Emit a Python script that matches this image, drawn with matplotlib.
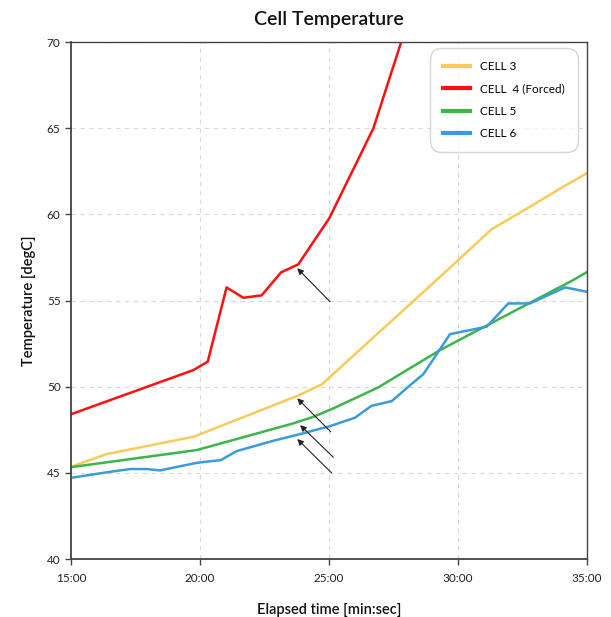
import numpy as np
import matplotlib
matplotlib.use("Agg")
import matplotlib.pyplot as plt

# Data (time in minutes, temperature in degC)
t_cell3 = [15.0, 16.38, 19.74, 23.75, 24.72, 29.17, 31.30, 32.79, 34.08, 34.99]
T_cell3 = [45.35, 46.09, 47.09, 49.45, 50.13, 56.19, 59.13, 60.44, 61.60, 62.38]

t_cell4 = [15.0, 19.74, 20.30, 21.03, 21.68, 22.39, 23.14, 23.81, 25.01, 26.72, 27.79, 28.1]
T_cell4 = [48.4, 50.96, 51.45, 55.76, 55.16, 55.30, 56.63, 57.10, 59.77, 64.99, 69.96, 71.5]

t_cell5 = [15.0, 19.87, 23.62, 24.39, 25.17, 26.91, 29.30, 34.47, 35.0]
T_cell5 = [45.33, 46.32, 47.87, 48.25, 48.74, 49.96, 52.12, 56.19, 56.65]

t_cell6 = [15.0, 16.38, 17.29, 17.93, 18.45, 19.87, 20.81, 21.42, 22.84, 23.88, 25.04,
           26.01, 26.65, 27.43, 28.07, 28.66, 29.11, 29.69, 31.11, 31.95, 32.79, 34.15, 34.99]
T_cell6 = [44.71, 45.03, 45.22, 45.22, 45.14, 45.58, 45.74, 46.26, 46.86, 47.25, 47.71,
           48.20, 48.89, 49.16, 49.99, 50.73, 51.74, 53.05, 53.48, 54.83, 54.83, 55.76, 55.51]

# arrows: (tail_t, tail_T, head_t, head_T)
arrows = [
    (25.04, 54.93, 23.77, 56.87),
    (25.07, 47.38, 23.77, 49.32),
    (25.17, 45.90, 23.88, 47.77),
    (25.10, 45.00, 23.77, 46.96),
]

xticks = [15, 20, 25, 30, 35]
xlabels = ["15:00", "20:00", "25:00", "30:00", "35:00"]
yticks = [40, 45, 50, 55, 60, 65, 70]

plt.rcParams["font.family"] = ["Lato", "DejaVu Sans"]

fig = plt.figure(figsize=(6.11, 6.17), dpi=100)
ax = fig.add_axes([0.1162, 0.094, 0.8445, 0.8379])

ax.plot(t_cell3, T_cell3, color="#f8cb58", lw=1.8, label="CELL 3")
ax.plot(t_cell4, T_cell4, color="#ff1010", lw=1.8, label="CELL  4 (Forced)")
ax.plot(t_cell5, T_cell5, color="#3cb54a", lw=1.8, label="CELL 5")
ax.plot(t_cell6, T_cell6, color="#3a9bdc", lw=1.8, label="CELL 6")

for x0, y0, x1, y1 in arrows:
    ax.annotate("", xy=(x1, y1), xytext=(x0, y0),
                arrowprops=dict(arrowstyle="-|>", color="#222222", lw=0.8,
                                mutation_scale=9, shrinkA=0, shrinkB=0))

ax.set_xlim(15, 35)
ax.set_ylim(40, 70)
ax.set_xticks(xticks)
ax.set_xticklabels(xlabels)
ax.set_yticks(yticks)
ax.tick_params(labelsize=8.5, length=4, width=1, color="#444444", labelcolor="#222222")
ax.tick_params(axis="x", pad=6)
ax.grid(True, linestyle=(0, (4, 4)), color="#d9d9d9", lw=0.8)

for s in ax.spines.values():
    s.set_color("#444444")
    s.set_linewidth(1.0)
ax.spines["left"].set_linewidth(1.3)
ax.spines["bottom"].set_linewidth(1.3)

ax.set_title("Cell Temperature", fontsize=14, fontweight="semibold", color="#111111", pad=12)
ax.set_xlabel("Elapsed time [min:sec]", fontsize=10.5, fontweight="semibold", color="#111111", labelpad=14)
ax.set_ylabel("Temperature [degC]", fontsize=10.5, fontweight="semibold", color="#111111", labelpad=8)

leg = ax.legend(loc="upper right", bbox_to_anchor=(0.985, 0.99), fontsize=8.5, frameon=True,
                fancybox=True, handlelength=2.3, labelspacing=0.95, borderpad=0.9,
                handletextpad=0.9, borderaxespad=0.3)
leg.get_frame().set_edgecolor("#cccccc")
leg.get_frame().set_linewidth(1.0)
leg.get_frame().set_boxstyle("round,pad=0.2,rounding_size=1.0")
for line in leg.get_lines():
    line.set_linewidth(3)

fig.savefig("out.png", dpi=100)
